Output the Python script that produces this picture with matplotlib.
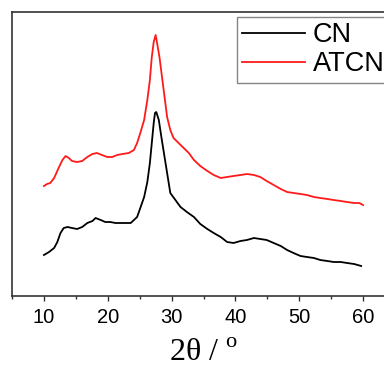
"""XRD patterns of CN and ATCN (offset stacked)."""

import matplotlib

matplotlib.use("Agg")
import matplotlib.pyplot as plt  # noqa: E402

# values (2theta in degrees, intensity in arbitrary units)
cn_2theta = [10.0, 10.8, 11.6, 12.1, 12.6, 13.1, 13.7, 14.4, 15.2, 16.0, 16.8, 17.6, 18.1, 18.9,
             19.6, 20.4, 21.2, 22.0, 22.8, 23.6, 24.1, 24.6, 25.1, 25.7, 26.2, 26.6, 26.9, 27.2,
             27.4, 27.6, 28.0, 28.4, 28.8, 29.3, 29.8, 30.6, 31.4, 32.4, 33.5, 34.5, 35.6, 36.6,
             37.7, 38.7, 39.7, 40.8, 41.8, 42.9, 43.9, 44.9, 46.0, 47.1, 48.1, 49.1, 50.2, 51.2,
             52.3, 53.3, 54.4, 55.4, 56.5, 57.5, 58.6, 59.7]
cn_int = [45, 48, 52, 58, 67, 72, 73, 72, 71, 73, 77, 79, 82, 80,
          78, 78, 77, 77, 77, 77, 80, 83, 92, 103, 118, 137, 157, 177,
          187, 188, 180, 163, 147, 127, 107, 100, 93, 88, 83, 76, 71, 67,
          63, 58, 57, 59, 60, 62, 61, 60, 57, 54, 50, 47, 44, 43,
          42, 40, 39, 38, 38, 37, 36, 34]
atcn_2theta = [10.0, 10.5, 11.0, 11.6, 12.3, 12.9, 13.4, 13.9, 14.4, 15.2, 16.0, 16.8, 17.6, 18.3,
               19.1, 19.9, 20.7, 21.5, 22.3, 23.3, 24.1, 24.6, 25.1, 25.7, 26.2, 26.6, 26.9, 27.2,
               27.5, 27.7, 28.1, 28.5, 28.9, 29.3, 29.8, 30.3, 31.1, 31.9, 32.7, 33.5, 34.5, 35.6,
               36.6, 37.7, 38.7, 39.7, 40.8, 41.8, 42.9, 43.9, 44.9, 46.0, 47.1, 48.1, 49.1, 50.2,
               51.2, 52.3, 53.3, 54.4, 55.4, 56.5, 57.5, 58.6, 59.4, 60.0]
atcn_int = [114, 116, 117, 122, 132, 140, 144, 142, 139, 138, 139, 143, 146, 147,
            145, 143, 143, 145, 146, 147, 150, 157, 167, 180, 200, 220, 243, 258,
            265, 258, 243, 223, 203, 183, 170, 162, 157, 152, 147, 140, 134, 129,
            125, 122, 123, 124, 125, 126, 125, 123, 119, 115, 111, 108, 107, 106,
            105, 103, 102, 101, 100, 99, 98, 97, 97, 95]

plt.rcParams.update({
    "font.family": ["Liberation Sans", "DejaVu Sans"],
    "mathtext.fontset": "custom",
    "mathtext.rm": "Liberation Serif",
})

fig = plt.figure(figsize=(3.84, 3.76), dpi=100)
ax = fig.add_axes([12 / 384, 80 / 376, 383 / 384, 284 / 376])

ax.plot(cn_2theta, cn_int, color="black", linewidth=1.3, label="CN")
ax.plot(atcn_2theta, atcn_int, color="#ff1a1a", linewidth=1.3, label="ATCN")

ax.set_xlim(5, 65)
ax.set_ylim(4, 288)
ax.set_xticks([10, 20, 30, 40, 50, 60])
ax.set_xticks([5, 15, 25, 35, 45, 55, 65], minor=True)
ax.set_yticks([])
ax.tick_params(axis="x", which="major", direction="out", length=3.5, width=1.0,
               color="#333333", labelsize=14.5, pad=5)
ax.tick_params(axis="x", which="minor", direction="out", length=2.5, width=1.0, color="#333333")
for side in ("left", "top", "bottom", "right"):
    ax.spines[side].set_color("#333333")
    ax.spines[side].set_linewidth(1.2)

ax.set_xlabel(r"2θ / $^{\mathrm{o}}$", fontsize=23, family="Liberation Serif", labelpad=9)

leg = ax.legend(loc="upper left", bbox_to_anchor=(237 / 384, 1 - 17 / 376),
                bbox_transform=fig.transFigure, fontsize=19.5, frameon=True, fancybox=False,
                handlelength=2.3, handletextpad=0.3, borderpad=0.2, labelspacing=0.1,
                borderaxespad=0)
leg.get_frame().set_edgecolor("#666666")
leg.get_frame().set_linewidth(1.0)

fig.savefig("out.png", dpi=100)
